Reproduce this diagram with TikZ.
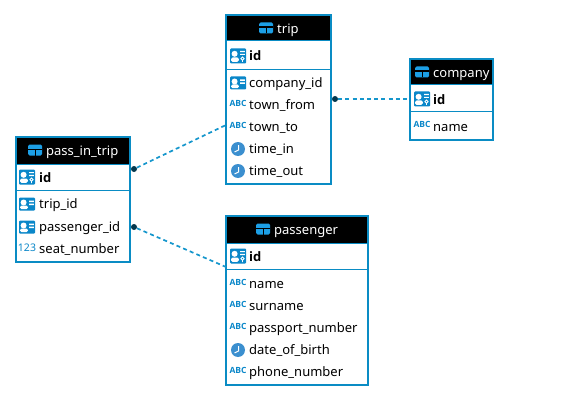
\documentclass[tikz,border=0pt]{standalone}
\usepackage{fontspec}
\setmainfont{Noto Sans}
\newfontfamily\idfont{Open Sans}
\usetikzlibrary{positioning}
\definecolor{tablecol}{HTML}{0A8CC4}
\definecolor{iconcol}{HTML}{0A87C9}
\definecolor{headicon}{HTML}{1C9FE6}
\definecolor{clockcol}{HTML}{3B8FCF}
\definecolor{linkcol}{HTML}{1596CC}
\tikzset{
    pics/idicon/.style={code={
        \fill[iconcol,rounded corners=1pt] (-8,-7.5) rectangle (8,7.5);
        \fill[white] (-3.4,-2.2) circle (3);
        \fill[white,rounded corners=1.5pt] (-7,5.8) rectangle (0.8,1.5);
        \fill[white] (2,-5) rectangle (6.8,-3.8) (2,-2.2) rectangle (6.8,-1);
        \draw[white,line width=.8pt] (4.5,2.6) circle (1.6) (4.5,4.2) -- (4.5,6);
    }},
    pics/fkicon/.style={code={
        \fill[iconcol,rounded corners=1pt] (-8,-6.5) rectangle (8,6.5);
        \fill[white] (-3.4,-1.5) circle (3);
        \fill[white,rounded corners=1.5pt] (-7,5.2) rectangle (0.8,1.5);
        \fill[white] (2,-3.5) rectangle (6.8,-2) (2,-.5) rectangle (6.8,1);
    }},
    pics/abcicon/.style={code={
        \node[iconcol,font=\idfont\bfseries\fontsize{8.5}{8.5}\selectfont,inner sep=0pt] (abc) at (0,-1.5) {ABC};
    }},
    pics/numicon/.style={code={
        \node[iconcol,font=\fontsize{10.5}{10.5}\selectfont,inner sep=0pt] (num) at (0,-1.5) {123};
    }},
    pics/clockicon/.style={code={
        \fill[clockcol] (0,0) circle (7);
        \draw[white,line width=1pt] (0.5,-4) -- (0.5,1) -- (-3.5,3);
    }},
    pics/tableicon/.style={code={
        \fill[headicon,rounded corners=1.5pt] (-7,-5.5) rectangle (7,5.5);
        \fill[black] (-7,-1.5) rectangle (7,-.4);
        \fill[black] (-.5,-.4) rectangle (.5,5.5);
    }},
}
\begin{document}
\begin{tikzpicture}[
        x=1pt,y=-1pt,
        tablebody/.style={fill=white,inner sep=0pt,anchor=north west},
        tablehead/.style={fill=black,inner sep=0pt,anchor=north west},
        tableedge/.style={draw=tablecol,line width=2pt},
        rowline/.style={draw=tablecol,line width=1pt},
        titletext/.style={text=white,inner sep=0pt,anchor=west,font=\fontsize{13}{13}\selectfont,text height=10pt,text depth=3pt},
        rowtext/.style={inner sep=0pt,anchor=west,font=\fontsize{13}{13}\selectfont,text height=10pt,text depth=3pt},
        idtext/.style={rowtext,font=\idfont\bfseries\fontsize{13}{13}\selectfont},
        link/.style={draw=linkcol,line width=1.7pt,dash pattern=on 4pt off 3.2pt},
        enddot/.style={circle,fill=black!60!tablecol,inner sep=0pt,minimum size=6pt},
        ]

    \useasboundingbox (0,0) rectangle (579,404);

    % trip
    \node[tablebody,minimum width=105pt,minimum height=169pt] (trip) at (226,15) {};
    \node[tablehead,minimum width=105pt,minimum height=26pt] (trip head) at (trip.north west) {};
    \pic at (266,28) {tableicon};
    \node[titletext] (trip title) at (277,30) {trip};
    \draw[rowline] (226,41) -- (331,41) (226,70) -- (331,70);
    \pic at (238,56) {idicon};
    \node[idtext] (trip id) at (249,57) {id};
    \foreach \y/\icon/\txt in {84/fkicon/company\_id,106/abcicon/town\_from,128/abcicon/town\_to,150/clockicon/time\_in,172/clockicon/time\_out}{
        \pic at (238,\y-1) {\icon};
        \node[rowtext] at (249,\y) {\txt};
    }
    \draw[tableedge] (trip.north west) rectangle (trip.south east);

    % company
    \node[tablebody,minimum width=83pt,minimum height=81pt] (company) at (410,59) {};
    \node[tablehead,minimum width=83pt,minimum height=26pt] (company head) at (company.north west) {};
    \pic at (422,72) {tableicon};
    \node[titletext] (company title) at (433,74) {company};
    \draw[rowline] (410,85) -- (493,85) (410,112) -- (493,112);
    \pic at (422,99) {idicon};
    \node[idtext] (company id) at (433,101) {id};
    \pic at (422,126) {abcicon};
    \node[rowtext] (company name) at (433,128) {name};
    \draw[tableedge] (company.north west) rectangle (company.south east);

    % pass_in_trip
    \node[tablebody,minimum width=114pt,minimum height=125pt] (pass) at (16,137) {};
    \node[tablehead,minimum width=114pt,minimum height=27pt] (pass head) at (pass.north west) {};
    \pic at (35,150) {tableicon};
    \node[titletext] (pass title) at (46,152) {pass\_in\_trip};
    \draw[rowline] (16,164) -- (130,164) (16,190) -- (130,190);
    \pic at (27,177) {idicon};
    \node[idtext] (pass id) at (39,179) {id};
    \foreach \y/\icon/\txt in {205/fkicon/trip\_id,228/fkicon/passenger\_id,250/numicon/seat\_number}{
        \pic at (27,\y-1) {\icon};
        \node[rowtext] at (39,\y) {\txt};
    }
    \draw[tableedge] (pass.north west) rectangle (pass.south east);

    % passenger
    \node[tablebody,minimum width=142pt,minimum height=169pt] (passenger) at (226,216) {};
    \node[tablehead,minimum width=142pt,minimum height=27pt] (passenger head) at (passenger.north west) {};
    \pic at (263,229) {tableicon};
    \node[titletext] (passenger title) at (274,231) {passenger};
    \draw[rowline] (226,243) -- (368,243) (226,269) -- (368,269);
    \pic at (238,256) {idicon};
    \node[idtext] (passenger id) at (249,258) {id};
    \foreach \y/\icon/\txt in {285/abcicon/name,307/abcicon/surname,329/abcicon/passport\_number,351/clockicon/date\_of\_birth,373/abcicon/phone\_number}{
        \pic at (238,\y-1) {\icon};
        \node[rowtext] at (249,\y) {\txt};
    }
    \draw[tableedge] (passenger.north west) rectangle (passenger.south east);

    % links
    \node[enddot] (trip dot) at (335,99) {};
    \node[enddot] (pass dot a) at (134,169) {};
    \node[enddot] (pass dot b) at (134,227) {};
    \coordinate (company end) at (410,99);
    \coordinate (trip end) at (226,125);
    \coordinate (passenger end) at (226,267);
    \draw[link] (trip dot) -- (company end);
    \draw[link] (pass dot a) -- (trip end);
    \draw[link] (pass dot b) -- (passenger end);
\end{tikzpicture}
\end{document}
